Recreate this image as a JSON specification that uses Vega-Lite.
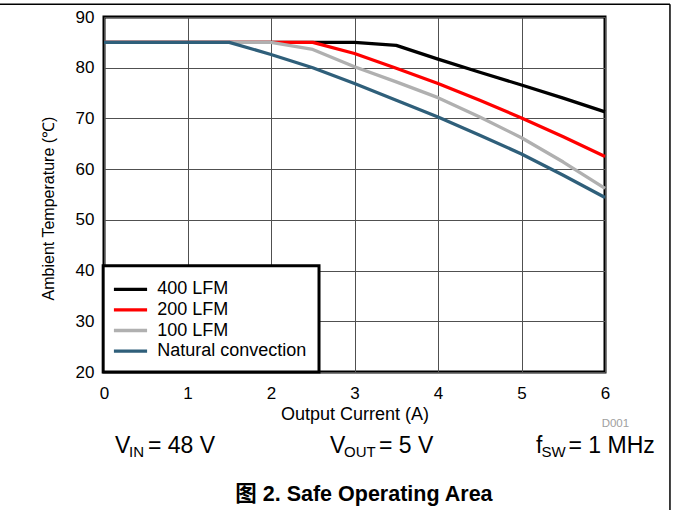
{
  "$schema": "https://vega.github.io/schema/vega-lite/v6.json",
  "width": 501,
  "height": 355,
  "autosize": {"type": "none"},
  "padding": {"left": 104, "top": 17, "right": 68, "bottom": 138},
  "background": "white",
  "config": {
    "view": {"stroke": "black", "strokeWidth": 3},
    "font": "Liberation Sans",
    "axis": {
      "grid": true, "gridColor": "#505050", "gridWidth": 1, "gridOpacity": 1,
      "domain": false, "ticks": false, "tickSize": 0,
      "labelFont": "Liberation Sans", "labelFontSize": 17, "labelColor": "black",
      "titleFont": "Liberation Sans", "titleFontWeight": "normal", "titleColor": "black",
      "labelFlush": false
    }
  },
  "encoding": {
    "x": {
      "field": "x", "type": "quantitative",
      "scale": {"domain": [0, 6], "nice": false, "zero": false},
      "axis": {"values": [0, 1, 2, 3, 4, 5, 6], "title": "Output Current (A)", "titleFontSize": 18, "labelPadding": 13.5, "titleY": 47.6, "titleBaseline": "alphabetic"}
    },
    "y": {
      "field": "y", "type": "quantitative",
      "scale": {"domain": [20, 90], "nice": false, "zero": false},
      "axis": {"values": [20, 30, 40, 50, 60, 70, 80, 90], "title": "Ambient Temperature (℃)", "titleFontSize": 16, "labelPadding": 10, "titleX": -51, "titleY": 191, "titleBaseline": "alphabetic"}
    }
  },
  "layer": [
    {
      "data": {"values": [{"x": -0.01, "x2": 2.575, "y": 20, "y2": 40.96}]},
      "mark": {"type": "rect", "fill": "white", "stroke": "black", "strokeWidth": 3},
      "encoding": {"x2": {"field": "x2"}, "y2": {"field": "y2"}}
    },
    {
      "data": {"values": [
        {"series": "400 LFM", "x": 0, "y": 85}, {"series": "400 LFM", "x": 0.5, "y": 85}, {"series": "400 LFM", "x": 1, "y": 85}, {"series": "400 LFM", "x": 1.5, "y": 85}, {"series": "400 LFM", "x": 2, "y": 85}, {"series": "400 LFM", "x": 2.5, "y": 85}, {"series": "400 LFM", "x": 3, "y": 85}, {"series": "400 LFM", "x": 3.5, "y": 84.4}, {"series": "400 LFM", "x": 4, "y": 81.7}, {"series": "400 LFM", "x": 4.5, "y": 79.1}, {"series": "400 LFM", "x": 5, "y": 76.6}, {"series": "400 LFM", "x": 5.5, "y": 74.0}, {"series": "400 LFM", "x": 6, "y": 71.3},
        {"series": "200 LFM", "x": 0, "y": 85}, {"series": "200 LFM", "x": 0.5, "y": 85}, {"series": "200 LFM", "x": 1, "y": 85}, {"series": "200 LFM", "x": 1.5, "y": 85}, {"series": "200 LFM", "x": 2, "y": 85}, {"series": "200 LFM", "x": 2.5, "y": 85}, {"series": "200 LFM", "x": 3, "y": 82.8}, {"series": "200 LFM", "x": 3.5, "y": 79.9}, {"series": "200 LFM", "x": 4, "y": 76.9}, {"series": "200 LFM", "x": 4.5, "y": 73.6}, {"series": "200 LFM", "x": 5, "y": 70.1}, {"series": "200 LFM", "x": 5.5, "y": 66.4}, {"series": "200 LFM", "x": 6, "y": 62.5},
        {"series": "100 LFM", "x": 0, "y": 85}, {"series": "100 LFM", "x": 0.5, "y": 85}, {"series": "100 LFM", "x": 1, "y": 85}, {"series": "100 LFM", "x": 1.5, "y": 85}, {"series": "100 LFM", "x": 2, "y": 85}, {"series": "100 LFM", "x": 2.5, "y": 83.6}, {"series": "100 LFM", "x": 3, "y": 80.2}, {"series": "100 LFM", "x": 3.5, "y": 77.2}, {"series": "100 LFM", "x": 4, "y": 74.1}, {"series": "100 LFM", "x": 4.5, "y": 70.3}, {"series": "100 LFM", "x": 5, "y": 66.2}, {"series": "100 LFM", "x": 5.5, "y": 61.4}, {"series": "100 LFM", "x": 6, "y": 56.2},
        {"series": "Natural convection", "x": 0, "y": 85}, {"series": "Natural convection", "x": 0.5, "y": 85}, {"series": "Natural convection", "x": 1, "y": 85}, {"series": "Natural convection", "x": 1.5, "y": 85}, {"series": "Natural convection", "x": 2, "y": 82.6}, {"series": "Natural convection", "x": 2.5, "y": 80.0}, {"series": "Natural convection", "x": 3, "y": 76.9}, {"series": "Natural convection", "x": 3.5, "y": 73.6}, {"series": "Natural convection", "x": 4, "y": 70.3}, {"series": "Natural convection", "x": 4.5, "y": 66.7}, {"series": "Natural convection", "x": 5, "y": 63.0}, {"series": "Natural convection", "x": 5.5, "y": 58.8}, {"series": "Natural convection", "x": 6, "y": 54.4}
      ]},
      "mark": {"type": "line", "strokeWidth": 3.3, "strokeCap": "butt", "strokeJoin": "round"},
      "encoding": {
        "color": {
          "field": "series", "type": "nominal",
          "scale": {"domain": ["400 LFM", "200 LFM", "100 LFM", "Natural convection"], "range": ["#000000", "#ff0000", "#b0b0b0", "#2f5f7a"]},
          "legend": {"orient": "none", "legendX": 17.5, "legendY": 263.3, "title": null, "symbolType": "M-5,0H5", "symbolSize": 44, "symbolStrokeWidth": 3.3, "labelFontSize": 18, "labelFont": "Liberation Sans", "labelColor": "black", "labelOffset": 17.8, "rowPadding": 2.6, "padding": 0}
        }
      }
    },
    {
      "data": {"values": [
        {"x": 0.1317, "y": 3.93, "text": "V"}, {"x": 0.527, "y": 3.93, "text": "= 48 V"},
        {"x": 2.707, "y": 3.93, "text": "V"}, {"x": 3.293, "y": 3.93, "text": "= 5 V"},
        {"x": 5.174, "y": 3.93, "text": "f"}, {"x": 5.563, "y": 3.93, "text": "= 1 MHz"}
      ]},
      "mark": {"type": "text", "align": "left", "baseline": "alphabetic", "fontSize": 23, "font": "Liberation Sans", "color": "black"},
      "encoding": {"text": {"field": "text"}}
    },
    {
      "data": {"values": [
        {"x": 0.299, "y": 3.24, "text": "IN"},
        {"x": 2.874, "y": 3.24, "text": "OUT"},
        {"x": 5.24, "y": 3.24, "text": "SW"}
      ]},
      "mark": {"type": "text", "align": "left", "baseline": "alphabetic", "fontSize": 15, "font": "Liberation Sans", "color": "black"},
      "encoding": {"text": {"field": "text"}}
    },
    {
      "data": {"values": [{"x": 5.96, "y": 9.1, "text": "D001"}]},
      "mark": {"type": "text", "align": "left", "baseline": "alphabetic", "fontSize": 11.5, "font": "Liberation Sans", "color": "#a0a0a0"},
      "encoding": {"text": {"field": "text"}}
    },
    {
      "data": {"values": [{"x": 1.572, "y": -5.38, "text": "图 2. Safe Operating Area"}]},
      "mark": {"type": "text", "align": "left", "baseline": "alphabetic", "fontSize": 21.5, "fontWeight": "bold", "font": "Liberation Sans, Noto Sans CJK SC", "color": "black"},
      "encoding": {"text": {"field": "text"}}
    },
    {
      "data": {"values": [
        {"x": -1.26, "x2": 6.778, "y": 92.5, "y2": 92.5},
        {"x": 6.778, "x2": 6.778, "y": 92.5, "y2": -7.5}
      ]},
      "mark": {"type": "rule", "color": "black", "strokeWidth": 1.5},
      "encoding": {"x2": {"field": "x2"}, "y2": {"field": "y2"}}
    }
  ]
}
